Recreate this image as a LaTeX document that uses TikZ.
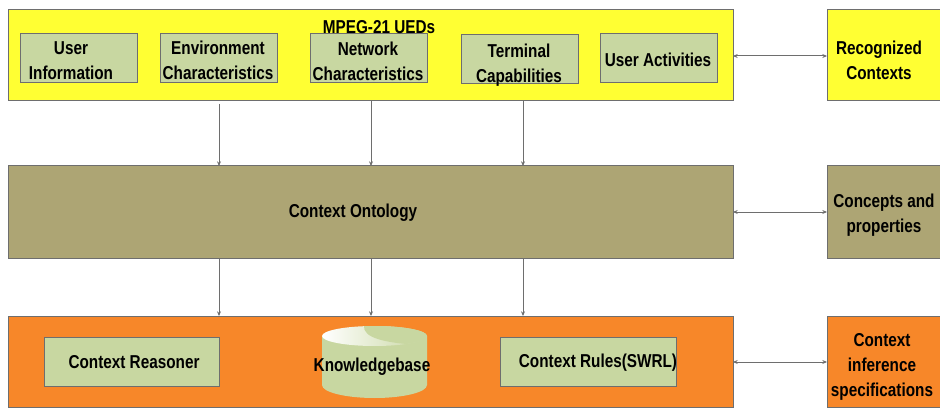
\documentclass[tikz,border=0pt]{standalone}
\usepackage{fontspec}
\setmainfont[FakeStretch=0.82]{Liberation Sans}
\usetikzlibrary{arrows.meta,calc}
\definecolor{uedy}{HTML}{FFFF33}
\definecolor{ontol}{HTML}{ADA574}
\definecolor{orng}{HTML}{F78729}
\definecolor{inner}{HTML}{C8D7A1}
\definecolor{edge}{HTML}{6E6E6E}
\tikzset{
  x=0.75pt,y=-0.75pt,
  panel/.style={draw=edge,line width=0.75pt,anchor=north west,inner sep=0pt,outer sep=0pt},
  innerbox/.style={panel,fill=inner,minimum width=87.75pt,minimum height=36.75pt},
  lbl/.style={font=\bfseries\fontsize{14}{18.75}\selectfont,align=center,inner sep=0pt,text=black},
  conn/.style={draw=edge,line width=0.6pt,-{Stealth[length=3.5pt,width=3pt]}},
  biconn/.style={draw=edge,line width=0.75pt,{Stealth[length=3.5pt,width=3pt]}-{Stealth[length=3.5pt,width=3pt]}}
}
\newcommand{\pxbox}[5]{\node[panel,fill=#2,minimum width=#4*0.75pt,minimum height=#5*0.75pt] (#1) at #3 {};}
\begin{document}
\begin{tikzpicture}
\useasboundingbox (0,0) rectangle (940,410);
\clip (0,0) rectangle (940,410);
\fill[white] (0,0) rectangle (940,410);
% panels
\pxbox{ued}{uedy}{(8,10)}{725}{91}
\pxbox{onto}{ontol}{(8,166)}{725}{92}
\pxbox{kb}{orng}{(8,316)}{725}{91}
\pxbox{rec}{uedy}{(827,10)}{125}{91}
\pxbox{con}{ontol}{(827,166)}{125}{92}
\pxbox{inf}{orng}{(827,316)}{125}{91}
% inner boxes
\node[innerbox] (u1) at (20,34) {};
\node[innerbox] (u2) at (160,34) {};
\node[innerbox] (u3) at (310,34) {};
\node[innerbox] (u4) at (461,35) {};
\node[innerbox] (u5) at (600,34) {};
\node[innerbox,minimum width=131.25pt] (reasoner) at (44,337) {};
\node[innerbox,minimum width=132pt] (rules) at (500,337) {};
% titles
\node[lbl] (t1) at (379,27) {MPEG-21 UEDs};
\node[lbl] (a1) at (71,61) {User\\Information};
\node[lbl] (a2) at (218,60) {Environment\\Characteristics};
\node[lbl] (a3) at (368,61) {Network\\Characteristics};
\node[lbl] (a4) at (519,65) {Terminal\\Capabilities};
\node[lbl] (a5) at (658,60) {User Activities};
\node[lbl] (t2) at (353,213) {Context Ontology};
\node[lbl] (t3) at (134,362) {Context Reasoner};
\node[lbl] (t4) at (598,363) {Context Rules(SWRL)};
\node[lbl] (t5) at (879,60) {Recognized\\Contexts};
\node[lbl] (t6) at (884,215) {Concepts and\\properties};
\node[lbl] (t7) at (882,367) {Context\\inference\\specifications};
% cylinder
\path[fill=inner] (322,336) -- (322,385) arc[start angle=180,end angle=0,x radius=52.5,y radius=13] -- (427,336) -- cycle;
\begin{scope}
\clip (374.5,336) ellipse[x radius=52.5,y radius=10];
\shade[left color=white,right color=inner] (322,326) rectangle (427,346);
\fill[inner] (364,325) .. controls (362,338) and (385,343) .. (420,345) -- (430,345) -- (430,325) -- cycle;
\end{scope}
\node[lbl] (t8) at (372,367) {Knowledgebase};
% connectors
\coordinate (c1) at (219,0);
\coordinate (c2) at (371,0);
\coordinate (c3) at (523,0);
\draw[conn] (c1 |- ued.south) ++(0,3) -- (c1 |- onto.north);
\draw[conn] (c2 |- ued.south) -- (c2 |- onto.north);
\draw[conn] (c3 |- ued.south) -- (c3 |- onto.north);
\draw[conn] (c1 |- onto.south) -- (c1 |- kb.north);
\draw[conn] (c2 |- onto.south) -- (c2 |- kb.north);
\draw[conn] (c3 |- onto.south) -- (c3 |- kb.north);
\coordinate (h1) at (0,56);
\coordinate (h2) at (0,212);
\coordinate (h3) at (0,362);
\draw[biconn] (ued.east |- h1) -- (rec.west |- h1);
\draw[biconn] (onto.east |- h2) -- (con.west |- h2);
\draw[biconn] (kb.east |- h3) -- (inf.west |- h3);
\end{tikzpicture}
\end{document}
